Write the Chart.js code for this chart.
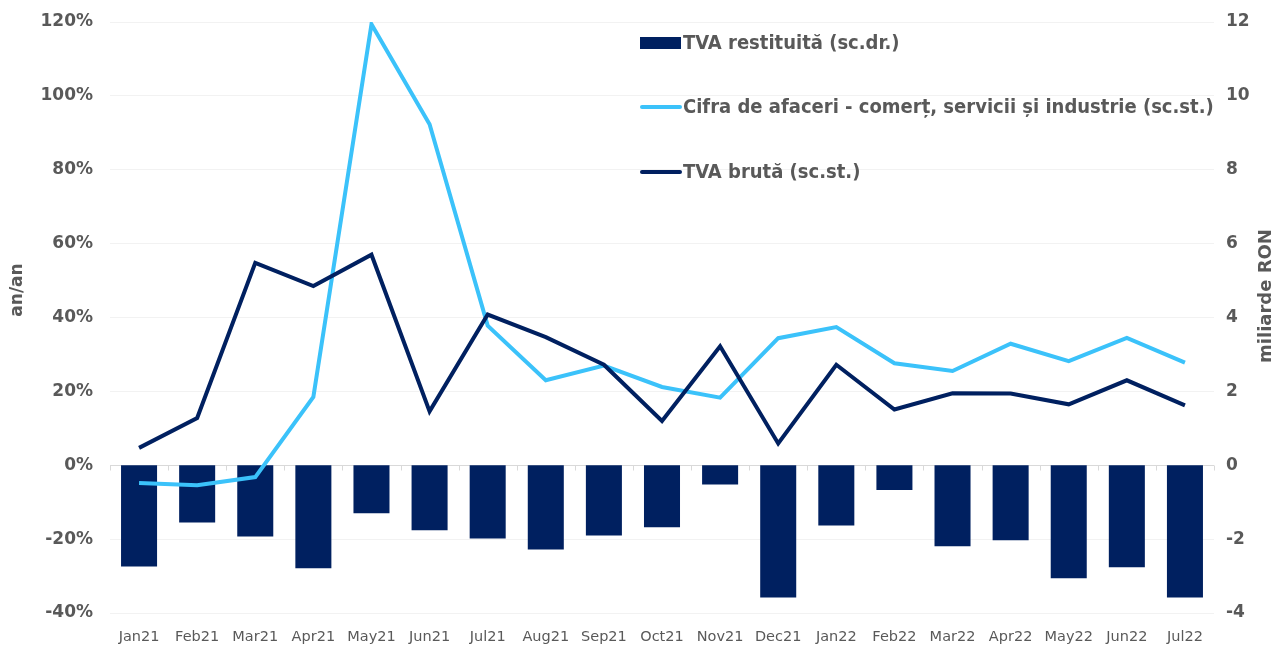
<!DOCTYPE html>
<html>
<head>
<meta charset="utf-8">
<script src="https://cdn.jsdelivr.net/npm/chart.js@4.4.0/dist/chart.umd.min.js"></script>
<style>
  html, body { margin: 0; padding: 0; background: #fff; }
  #wrap { width: 1281px; height: 648px; }
</style>
</head>
<body>
<div id="wrap"><canvas id="grafic"></canvas></div>
<script>
// date
const luni = ["Jan21", "Feb21", "Mar21", "Apr21", "May21", "Jun21", "Jul21", "Aug21", "Sep21", "Oct21",
              "Nov21", "Dec21", "Jan22", "Feb22", "Mar22", "Apr22", "May22", "Jun22", "Jul22"];
const tvaRestituita = [-2.74, -1.55, -1.93, -2.79, -1.30, -1.76, -1.98, -2.28, -1.90, -1.68,
                       -0.52, -3.58, -1.63, -0.67, -2.19, -2.03, -3.06, -2.76, -3.58];
const cifraAfaceri = [-4.8, -5.4, -3.2, 18.5, 119.4, 92.3, 37.8, 23.0, 27.0, 21.2,
                      18.3, 34.4, 37.4, 27.6, 25.5, 32.9, 28.2, 34.5, 27.8];
const tvaBruta = [4.7, 12.8, 54.8, 48.5, 57.0, 14.6, 40.8, 34.7, 27.2, 12.0,
                  32.2, 5.9, 27.2, 15.1, 19.5, 19.4, 16.5, 23.0, 16.2];
const ticksStanga = [-40, -20, 0, 20, 40, 60, 80, 100, 120];
const ticksDreapta = [-4, -2, 0, 2, 4, 6, 8, 10, 12];

const GRI = '#595959';
const BLEUMARIN = '#002060';
const BLEU = '#3BC2FA';
const FONT = '"DejaVu Sans", sans-serif';

// linia de zero cu mici gradatii
const liniaZero = {
    id: 'liniaZero',
    beforeDatasetsDraw(chart) {
        const { ctx, chartArea, scales } = chart;
        const y0 = Math.round(scales.y.getPixelForValue(0)) + 0.5;
        ctx.save();
        ctx.strokeStyle = '#d9d9d9';
        ctx.lineWidth = 1;
        ctx.beginPath();
        ctx.moveTo(chartArea.left, y0);
        ctx.lineTo(chartArea.right, y0);
        const pas = (chartArea.right - chartArea.left) / luni.length;
        for (let i = 0; i <= luni.length; i++) {
            const xx = Math.round(chartArea.left + i * pas) + 0.5;
            ctx.moveTo(xx, y0);
            ctx.lineTo(xx, y0 + 5);
        }
        ctx.stroke();
        ctx.restore();
    }
};

// titlurile axelor, ambele citite de jos in sus
const titluri = {
    id: 'titluri',
    afterDraw(chart) {
        const { ctx } = chart;
        ctx.save();
        ctx.fillStyle = GRI;
        ctx.textAlign = 'center';
        ctx.textBaseline = 'middle';
        ctx.font = 'bold 17px ' + FONT;
        ctx.translate(18, 290);
        ctx.rotate(-Math.PI / 2);
        ctx.fillText('an/an', 0, 0);
        ctx.restore();
        ctx.save();
        ctx.fillStyle = GRI;
        ctx.textAlign = 'center';
        ctx.textBaseline = 'middle';
        ctx.font = 'bold 18px ' + FONT;
        ctx.translate(1266, 296);
        ctx.rotate(-Math.PI / 2);
        ctx.fillText('miliarde RON', 0, 0);
        ctx.restore();
    }
};

// legenda in interiorul graficului
const legenda = {
    id: 'legenda',
    afterDraw(chart) {
        const { ctx } = chart;
        const ds = chart.data.datasets;
        const randuri = [
            { d: ds[2], y: 43, tip: 'bar' },
            { d: ds[1], y: 107, tip: 'line' },
            { d: ds[0], y: 172, tip: 'line' }
        ];
        ctx.save();
        ctx.font = 'bold 20px "DejaVu Sans Condensed", "DejaVu Sans", sans-serif';
        ctx.textBaseline = 'middle';
        randuri.forEach(r => {
            if (r.tip === 'bar') {
                ctx.fillStyle = r.d.backgroundColor;
                ctx.fillRect(640, r.y - 6, 41, 12);
            } else {
                ctx.strokeStyle = r.d.borderColor;
                ctx.lineWidth = 4;
                ctx.lineCap = 'round';
                ctx.beginPath();
                ctx.moveTo(642, r.y);
                ctx.lineTo(680, r.y);
                ctx.stroke();
            }
            ctx.fillStyle = GRI;
            ctx.fillText(r.d.label, 683, r.y + 1);
        });
        ctx.restore();
    }
};

// dimensiuni fixe pentru axe, fara spatiu suplimentar pentru etichete
function fixeaza(latime) {
    return ax => {
        if (latime) ax.width = latime; else ax.height = 35;
        ax.paddingTop = 0; ax.paddingBottom = 0;
        ax.paddingLeft = 0; ax.paddingRight = 0;
    };
}

new Chart(document.getElementById('grafic'), {
    data: {
        labels: luni,
        datasets: [
            {
                type: 'line', label: 'TVA brută (sc.st.)', data: tvaBruta, yAxisID: 'y',
                borderColor: BLEUMARIN, borderWidth: 4, pointRadius: 0, tension: 0, order: 1
            },
            {
                type: 'line', label: 'Cifra de afaceri - comerț, servicii și industrie (sc.st.)',
                data: cifraAfaceri, yAxisID: 'y',
                borderColor: BLEU, borderWidth: 4, pointRadius: 0, tension: 0, order: 2
            },
            {
                type: 'bar', label: 'TVA restituită (sc.dr.)', data: tvaRestituita, yAxisID: 'y1',
                backgroundColor: BLEUMARIN, borderWidth: 0,
                barPercentage: 0.62, categoryPercentage: 1, order: 3
            }
        ]
    },
    options: {
        responsive: true,
        maintainAspectRatio: false,
        animation: false,
        layout: { padding: { left: 0, right: 0, top: 22, bottom: 0 } },
        plugins: {
            legend: { display: false },
            tooltip: { enabled: false }
        },
        scales: {
            x: {
                grid: { display: false },
                border: { display: false },
                afterFit: fixeaza(0),
                ticks: {
                    color: GRI, maxRotation: 0, autoSkip: false, padding: 8,
                    font: { family: FONT, size: 14.5 }
                }
            },
            y: {
                position: 'left',
                min: -40, max: 120,
                afterBuildTicks: ax => { ax.ticks = ticksStanga.map(v => ({ value: v })); },
                afterFit: fixeaza(110),
                grid: { color: '#f2f2f2', drawTicks: false },
                border: { display: false },
                ticks: {
                    color: GRI, padding: 17,
                    font: { family: FONT, size: 17, weight: 'bold' },
                    callback: v => v + '%'
                }
            },
            y1: {
                position: 'right',
                min: -4, max: 12,
                afterBuildTicks: ax => { ax.ticks = ticksDreapta.map(v => ({ value: v })); },
                afterFit: fixeaza(67),
                grid: { display: false, drawTicks: false },
                border: { display: false },
                ticks: {
                    color: GRI, padding: 12,
                    font: { family: FONT, size: 17, weight: 'bold' }
                }
            }
        }
    },
    plugins: [liniaZero, titluri, legenda]
});
</script>
</body>
</html>
